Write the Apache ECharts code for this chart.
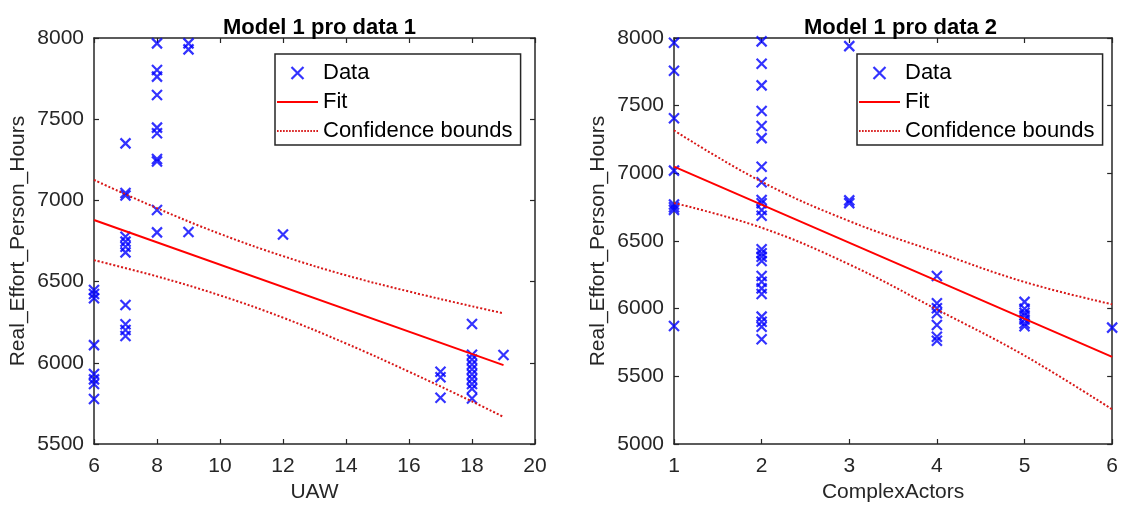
<!DOCTYPE html>
<html>
<head>
<meta charset="utf-8">
<script src="https://cdn.jsdelivr.net/npm/echarts@6/dist/echarts.min.js"></script>
<style>
  html, body { margin: 0; padding: 0; background: #ffffff; }
  #chart { width: 1121px; height: 508px; }
</style>
</head>
<body>
<div id="chart"></div>
<script>
// ---- Panel 1: effort against UAW ----
const uawX = [6,6,6,6,6,6,6,6,
              7,7,7,7,7,7,7,7,7,7,7,
              8,8,8,8,8,8,8,8,8,8,
              9,9,9,
              12,
              17,17,17,
              18,18,18,18,18,18,18,18,18,18,
              19];
const uawHours = [6448,6424,6397,6109,5931,5898,5869,5777,
                  7351,7045,7030,6776,6746,6715,6680,6356,6237,6202,6165,
                  7967,7803,7762,7649,7448,7413,7255,7240,6941,6803,
                  7967,7930,6805,
                  6790,
                  5945,5911,5785,
                  6239,6050,6020,5990,5960,5930,5900,5870,5840,5780,
                  6048];
const uawFitX = [6, 19];
const uawFitY = [6879, 5986];
const uawBoundX = [6, 8, 10, 12, 14, 16, 18, 19];
const uawUpper = [7126, 6952, 6794, 6657, 6539, 6439, 6348, 6305];
const uawLower = [6632, 6532, 6415, 6278, 6119, 5945, 5762, 5667];

// ---- Panel 2: effort against ComplexActors ----
const actorsX = [1,1,1,1,1,1,1,1,
                 2,2,2,2,2,2,2,2,2,2,2,2,2,2,2,2,2,2,2,2,2,2,2,2,
                 3,3,3,
                 4,4,4,4,4,4,4,
                 5,5,5,5,5,5,5,
                 6];
const actorsHours = [7965,7758,7407,7020,6770,6750,6730,5872,
                     7975,7810,7650,7460,7350,7260,7049,6934,6803,6779,6729,6687,6439,6409,6384,6352,6241,6199,6150,6108,5941,5904,5867,5774,
                     7940,6800,6780,
                     6241,6040,6003,5966,5880,5793,5763,
                     6050,6000,5970,5950,5920,5890,5870,
                     5860];
const actorsFitX = [1, 6];
const actorsFitY = [7049, 5644];
const actorsBoundX = [1, 2, 3, 4, 5, 6];
const actorsUpper = [7317, 6938, 6647, 6418, 6197, 6032];
const actorsLower = [6781, 6598, 6327, 5994, 5653, 5256];

const titles = ['Model 1 pro data 1', 'Model 1 pro data 2'];
const xNames = ['UAW', 'ComplexActors'];
const yName = 'Real_Effort_Person_Hours';
const legendNames = ['Data', 'Fit', 'Confidence bounds'];

const zip = (xs, ys) => xs.map((x, i) => [x, ys[i]]);

const FONT = 'Liberation Sans, Arial, Helvetica, sans-serif';
const AXIS_COLOR = '#262626';
const BLUE = '#0000ff';
const RED = '#ff0000';
const DOT_RED = '#d81818';
const CROSS = 'path://M0,0L10,10M10,0L0,10';

// legend glyphs: a solid bar and a row of small dots, both 41 units wide
const SOLID_ICON = 'path://M0,0H41V2H0Z';
let dots = '';
for (let x = 0; x < 41; x += 3) dots += 'M' + x + ',0h1.6v2h-1.6Z';
const DOTTED_ICON = 'path://' + dots;

const grids = [
  { left: 94, top: 38, width: 441, height: 406 },
  { left: 674, top: 38, width: 443, height: 406 }
];
const xRanges = [{ min: 6, max: 20, interval: 2 }, { min: 1, max: 6, interval: 1 }];
const yRanges = [{ min: 5500, max: 8000, interval: 500 }, { min: 5000, max: 8000, interval: 500 }];

function axisPair(range, gridIndex, isX, name) {
  const line = { show: true, lineStyle: { color: AXIS_COLOR, width: 1.5 } };
  const tick = { show: true, inside: true, length: 5, lineStyle: { color: AXIS_COLOR, width: 1.2 } };
  const main = Object.assign({
    type: 'value', gridIndex,
    position: isX ? 'bottom' : 'left',
    axisLine: line, axisTick: tick,
    splitLine: { show: false },
    axisLabel: {
      color: AXIS_COLOR, fontSize: 21, fontFamily: FONT, margin: isX ? 12 : 10,
      formatter: v => String(v)
    },
    name, nameLocation: 'middle',
    nameGap: isX ? 34 : 65,
    nameTextStyle: { color: AXIS_COLOR, fontSize: 21, fontFamily: FONT }
  }, range);
  const mirror = Object.assign({
    type: 'value', gridIndex,
    position: isX ? 'top' : 'right',
    axisLine: line, axisTick: tick,
    splitLine: { show: false },
    axisLabel: { show: false }
  }, range);
  return [main, mirror];
}

const xAxis = [...axisPair(xRanges[0], 0, true, xNames[0]), ...axisPair(xRanges[1], 1, true, xNames[1])];
const yAxis = [...axisPair(yRanges[0], 0, false, yName), ...axisPair(yRanges[1], 1, false, yName)];

function panelSeries(axisIdx, pts, fit, upper, lower) {
  const base = { xAxisIndex: axisIdx, yAxisIndex: axisIdx };
  const boundStyle = { color: DOT_RED, width: 2, type: [2, 2] };
  return [
    Object.assign({
      name: 'Data', type: 'scatter', data: pts,
      symbol: CROSS, symbolSize: 10, clip: false,
      itemStyle: { color: 'rgba(0,0,0,0)', borderColor: BLUE, borderWidth: 2.2 }
    }, base),
    Object.assign({
      name: 'Fit', type: 'line', data: fit, symbol: 'none',
      lineStyle: { color: RED, width: 2 }, itemStyle: { color: RED }
    }, base),
    Object.assign({
      name: 'Confidence bounds', type: 'line', data: upper, symbol: 'none', smooth: 0.4,
      lineStyle: boundStyle, itemStyle: { color: DOT_RED }
    }, base),
    Object.assign({
      name: 'Confidence bounds', type: 'line', data: lower, symbol: 'none', smooth: 0.4,
      lineStyle: boundStyle, itemStyle: { color: DOT_RED }
    }, base)
  ];
}

const series = [
  ...panelSeries(0, zip(uawX, uawHours), zip(uawFitX, uawFitY), zip(uawBoundX, uawUpper), zip(uawBoundX, uawLower)),
  ...panelSeries(2, zip(actorsX, actorsHours), zip(actorsFitX, actorsFitY), zip(actorsBoundX, actorsUpper), zip(actorsBoundX, actorsLower))
];

function legendAt(left) {
  return {
    left, top: 54, orient: 'vertical',
    selectedMode: false,
    itemWidth: 41, itemHeight: 12, itemGap: 7,
    padding: [8, 8, 3, 2],
    borderColor: AXIS_COLOR, borderWidth: 1.5, backgroundColor: '#ffffff',
    textStyle: { color: '#000000', fontSize: 22, fontFamily: FONT },
    data: [
      { name: legendNames[0], icon: CROSS,
        itemStyle: { color: 'rgba(0,0,0,0)', borderColor: BLUE, borderWidth: 2.2 } },
      { name: legendNames[1], icon: SOLID_ICON,
        itemStyle: { color: RED, borderWidth: 0 } },
      { name: legendNames[2], icon: DOTTED_ICON,
        itemStyle: { color: DOT_RED, borderWidth: 0 } }
    ]
  };
}

const option = {
  animation: false,
  backgroundColor: '#ffffff',
  title: titles.map((t, i) => ({
    text: t,
    left: grids[i].left + grids[i].width / 2,
    top: 12,
    textAlign: 'center',
    textStyle: { color: '#000000', fontSize: 22, fontWeight: 'bold', fontFamily: FONT }
  })),
  legend: [legendAt(275), legendAt(857)],
  grid: grids,
  xAxis, yAxis, series
};

const chart = echarts.init(document.getElementById('chart'), null, { renderer: 'canvas' });
chart.setOption(option);
</script>
</body>
</html>
